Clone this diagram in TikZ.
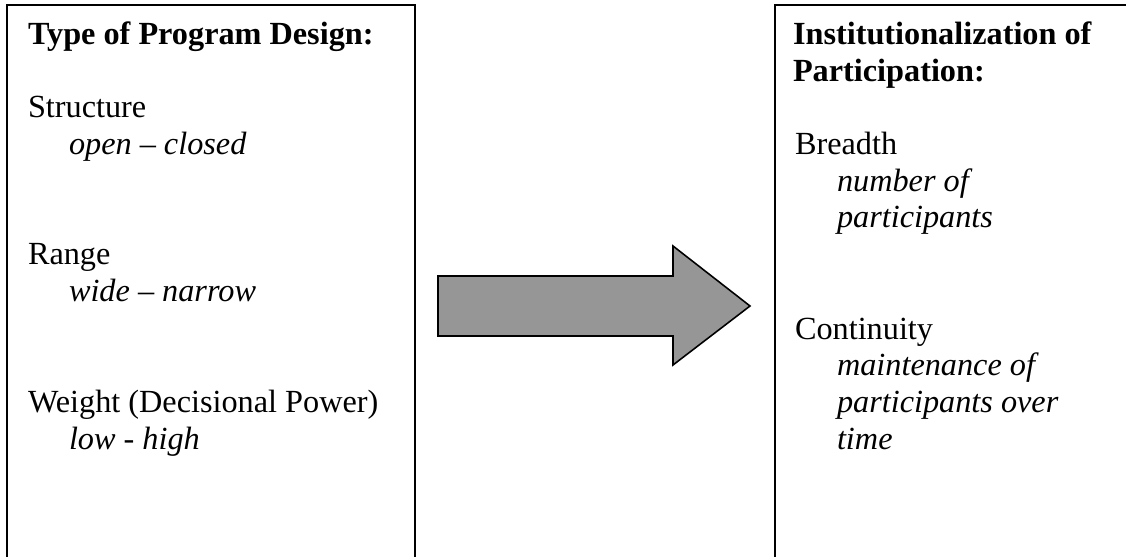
\documentclass[tikz,border=0pt]{standalone}
\usepackage{fontspec}
\setmainfont{Liberation Serif}
\begin{document}
\begin{tikzpicture}[x=0.3797pt, y=-0.3797pt,
  boxline/.style={draw=black, line width=0.78pt},
  txt/.style={anchor=base west, inner sep=0pt, outer sep=0pt,
    font=\fontsize{12.25pt}{14pt}\selectfont},
  head/.style={txt, font=\fontsize{12.25pt}{14pt}\selectfont\bfseries},
  desc/.style={txt, font=\fontsize{12.25pt}{14pt}\selectfont\itshape},
  bigarrow/.style={draw=black, line width=0.6pt, fill=black!41, line join=miter}]
  % page area
  \clip (0,0) rectangle (1126,557);
  \fill[white] (0,0) rectangle (1126,557);

  % the two open-ended frames
  \draw[boxline] (7,5) rectangle (415,620);
  \draw[boxline] (775,5) rectangle (1200,620);

  % left frame: program design
  \node[head] (ltitle) at (28,45) {Type of Program Design:};
  \node[txt]  (struct) at (28,118) {Structure};
  \node[desc] (structd) at (69,155) {open -- closed};
  \node[txt]  (range) at (28,265) {Range};
  \node[desc] (ranged) at (69,302) {wide -- narrow};
  \node[txt]  (weight) at (28,412) {Weight (Decisional Power)};
  \node[desc] (weightd) at (69,449) {low - high};

  % right frame: institutionalization
  \node[head] (rtitle1) at (793,45) {Institutionalization of};
  \node[head] (rtitle2) at (793,82) {Participation:};
  \node[txt]  (breadth) at (795,155) {Breadth};
  \node[desc] (breadthd1) at (837,192) {number of};
  \node[desc] (breadthd2) at (837,228) {participants};
  \node[txt]  (cont) at (795,339) {Continuity};
  \node[desc] (contd1) at (837,375) {maintenance of};
  \node[desc] (contd2) at (837,412) {participants over};
  \node[desc] (contd3) at (837,449) {time};

  % block arrow between the frames
  \draw[bigarrow] (438,276) -- (673,276) -- (673,246) -- (750,306)
    -- (673,365) -- (673,336) -- (438,336) -- cycle;
\end{tikzpicture}
\end{document}
